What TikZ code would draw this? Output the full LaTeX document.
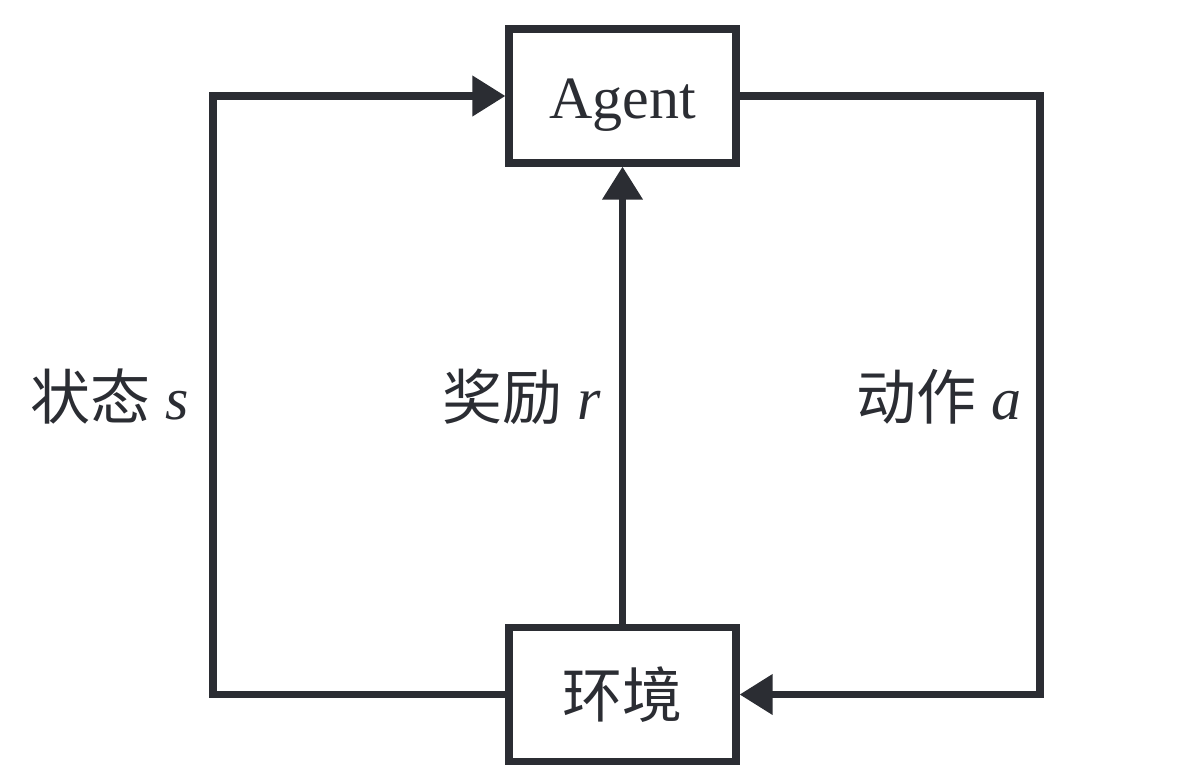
\documentclass[tikz,border=0pt]{standalone}
\usepackage{fontspec}
\setmainfont{Liberation Serif}
\newfontfamily\cjk{Noto Sans CJK SC}
\usetikzlibrary{arrows.meta}
\definecolor{ink}{RGB}{43,45,51}
\tikzset{
  blockbox/.style={draw=ink, line width=3.6pt, minimum width=113.5pt, minimum height=67pt, inner sep=0pt, fill=white, text=ink, font=\fontsize{30}{36}\selectfont},
  conn/.style={draw=ink, line width=3.6pt, line join=miter, -{Triangle[length=16.5pt,width=19.5pt]}},
  lbl/.style={anchor=east, inner sep=0pt, text=ink, font=\fontsize{30}{36}\selectfont}
}
\begin{document}
\begin{tikzpicture}[x=0.5pt,y=-0.5pt]
\useasboundingbox (0,0) rectangle (1188,777);
\node[blockbox, text height=22pt, text depth=0pt] (agent) at (622.5,96) {Agent};
\node[blockbox] (env) at (622.5,694.5) {\cjk 环境};
\coordinate (lt) at (213,96);
\coordinate (lb) at (213,694.5);
\coordinate (rt) at (1040,96);
\coordinate (rb) at (1040,694.5);
\draw[conn] (env.west) -- (lb) -- (lt) -- (agent.west);
\draw[conn] (agent.east) -- (rt) -- (rb) -- (env.east);
\draw[conn] (env.north) -- (agent.south);
\node[lbl] (ls) at (189,397) {{\cjk 状态} \textit{s}};
\node[lbl] (lr) at (601,397) {{\cjk 奖励} \textit{r}};
\node[lbl] (la) at (1022,397) {{\cjk 动作} \textit{a}};
\end{tikzpicture}
\end{document}
